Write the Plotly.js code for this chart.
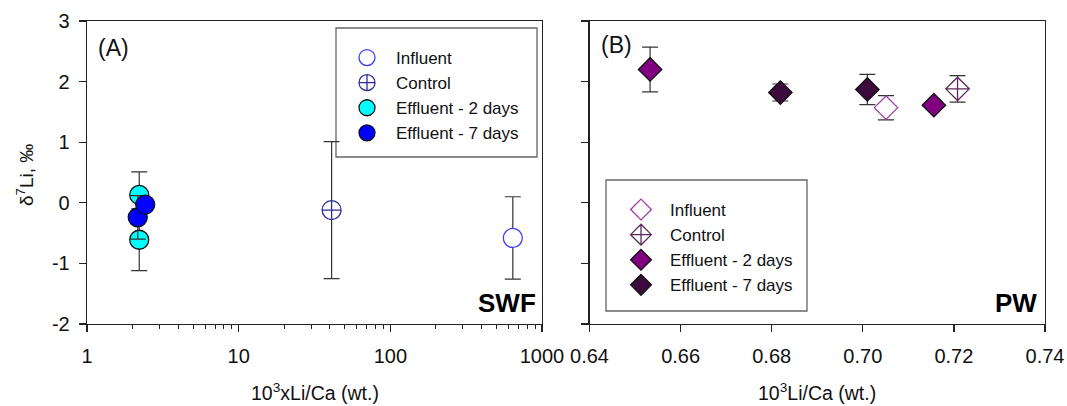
<!DOCTYPE html>
<html>
<head>
<meta charset="utf-8">
<script src="https://cdn.plot.ly/plotly-3.0.1.min.js"></script>
<style>html,body{margin:0;padding:0;background:#fff;}#chart{width:1067px;height:406px;}</style>
</head>
<body>
<div id="chart"></div>
<script>
// ---------- data (A) SWF ----------
const seriesNames = ["Influent", "Control", "Effluent - 2 days", "Effluent - 7 days"];
const swfInfluentX = [642];
const swfInfluentY = [-0.58];
const swfInfluentErr = [0.68];
const swfControlX = [41];
const swfControlY = [-0.12];
const swfControlErr = [1.13];
const swfEff2X = [2.21, 2.21];
const swfEff2Y = [0.13, -0.61];
const swfEff2Err = [0.38, 0.51];
const swfEff7X = [2.16, 2.42];
const swfEff7Y = [-0.24, -0.03];
const swfEff7Err = [0.36, 0.08];
// ---------- data (B) PW ----------
const pwInfluentX = [0.7051];
const pwInfluentY = [1.57];
const pwInfluentErr = [0.20];
const pwControlX = [0.7208];
const pwControlY = [1.88];
const pwControlErr = [0.22];
const pwEff2X = [0.6533, 0.7156];
const pwEff2Y = [2.20, 1.61];
const pwEff2Err = [0.37, 0.0];
const pwEff7X = [0.6819, 0.7010];
const pwEff7Y = [1.82, 1.87];
const pwEff7Err = [0.14, 0.25];
// ---------- tick labels ----------
const yTickVals = [-2, -1, 0, 1, 2, 3];
const yTickText = ["-2", "-1", "0", "1", "2", "3"];
const swfTickVals = [1, 10, 100, 1000];
const swfTickText = ["1", "10", "100", "1000"];
const pwTickVals = [0.64, 0.66, 0.68, 0.70, 0.72, 0.74];
const pwTickText = ["0.64", "0.66", "0.68", "0.70", "0.72", "0.74"];

const FONT = "Liberation Sans, Arial, sans-serif";
const W = 1067, H = 406;
const px = v => v / W;
const py = v => 1 - v / H;

function err(arr) {
  return {type: "data", array: arr, visible: true, color: "#333333", thickness: 1.2, width: 8};
}
function tr(x, y, e, name, xa, ya, legend, marker) {
  return {x: x, y: y, name: name, type: "scatter", mode: "markers", xaxis: xa, yaxis: ya,
          legend: legend, error_y: err(e), marker: marker, cliponaxis: false};
}

const data = [
  tr(swfInfluentX, swfInfluentY, swfInfluentErr, seriesNames[0], "x", "y", "legend",
     {symbol: "circle", size: 19, color: "#ffffff", line: {color: "#3b3bff", width: 1.3}}),
  tr(swfControlX, swfControlY, swfControlErr, seriesNames[1], "x", "y", "legend",
     {symbol: "circle-cross", size: 19, color: "#ffffff", line: {color: "#2e2e9a", width: 1.3}}),
  tr(swfEff2X, swfEff2Y, swfEff2Err, seriesNames[2], "x", "y", "legend",
     {symbol: "circle", size: 19, color: "#00ffff", line: {color: "#111111", width: 1.3}}),
  tr(swfEff7X, swfEff7Y, swfEff7Err, seriesNames[3], "x", "y", "legend",
     {symbol: "circle", size: 19, color: "#0000ff", line: {color: "#111111", width: 1.3}}),

  tr(pwInfluentX, pwInfluentY, pwInfluentErr, seriesNames[0], "x2", "y2", "legend2",
     {symbol: "diamond", size: 18, color: "#ffffff", line: {color: "#a33aa3", width: 1.3}}),
  tr(pwControlX, pwControlY, pwControlErr, seriesNames[1], "x2", "y2", "legend2",
     {symbol: "diamond-cross", size: 18, color: "#ffffff", line: {color: "#5c2a5c", width: 1.3}}),
  tr(pwEff2X, pwEff2Y, pwEff2Err, seriesNames[2], "x2", "y2", "legend2",
     {symbol: "diamond", size: 18, color: "#800080", line: {color: "#111111", width: 1.3}}),
  tr(pwEff7X, pwEff7Y, pwEff7Err, seriesNames[3], "x2", "y2", "legend2",
     {symbol: "diamond", size: 18, color: "#3c0a3c", line: {color: "#111111", width: 1.3}})
];

const axisCommon = {
  showline: true, linecolor: "#222222", linewidth: 1.3, mirror: true,
  showgrid: false, zeroline: false, ticks: "outside", tickcolor: "#222222",
  tickwidth: 1.2, ticklen: 7, tickfont: {family: FONT, size: 20, color: "#111111"}
};

const dY = [py(324), py(21)];

const layout = {
  width: W, height: H,
  margin: {l: 0, r: 0, t: 0, b: 0},
  paper_bgcolor: "#ffffff", plot_bgcolor: "#ffffff",
  font: {family: FONT, color: "#111111"},
  showlegend: true,
  xaxis: Object.assign({}, axisCommon, {
    type: "log", range: [0, 3], domain: [px(87), px(542)], anchor: "y",
    tickmode: "array", tickvals: swfTickVals, ticktext: swfTickText, ticklabelstandoff: 7,
    minor: {ticks: "outside", ticklen: 4, tickcolor: "#222222", tickwidth: 1, dtick: "D1", showgrid: false}
  }),
  yaxis: Object.assign({}, axisCommon, {
    range: [-2, 3], domain: dY, anchor: "x",
    tickmode: "array", tickvals: yTickVals, ticktext: yTickText, ticklabelstandoff: 5
  }),
  xaxis2: Object.assign({}, axisCommon, {
    range: [0.64, 0.74], domain: [px(589.5), px(1045)], anchor: "y2",
    tickmode: "array", tickvals: pwTickVals, ticktext: pwTickText, ticklabelstandoff: 7
  }),
  yaxis2: Object.assign({}, axisCommon, {
    range: [-2, 3], domain: dY, anchor: "x2",
    tickmode: "array", tickvals: yTickVals, showticklabels: false
  }),
  legend: {
    x: px(338), y: py(40), xanchor: "left", yanchor: "top",
    bgcolor: "rgba(0,0,0,0)", borderwidth: 0, itemwidth: 48,
    font: {family: FONT, size: 17, color: "#111111"}, tracegroupgap: 0
  },
  legend2: {
    x: px(612), y: py(192), xanchor: "left", yanchor: "top",
    bgcolor: "rgba(0,0,0,0)", borderwidth: 0, itemwidth: 48,
    font: {family: FONT, size: 17, color: "#111111"}, tracegroupgap: 0
  },
  shapes: [
    {type: "rect", xref: "paper", yref: "paper", x0: px(336), x1: px(537), y0: py(28), y1: py(157),
     line: {color: "#666666", width: 1.3}, fillcolor: "rgba(0,0,0,0)", layer: "below"},
    {type: "rect", xref: "paper", yref: "paper", x0: px(606), x1: px(807), y0: py(180), y1: py(311),
     line: {color: "#666666", width: 1.3}, fillcolor: "rgba(0,0,0,0)", layer: "below"}
  ],
  annotations: [
    {text: "(A)", xref: "paper", yref: "paper", x: px(96), y: py(48), xanchor: "left", yanchor: "middle",
     showarrow: false, font: {family: FONT, size: 23, color: "#111111"}},
    {text: "(B)", xref: "paper", yref: "paper", x: px(599), y: py(45), xanchor: "left", yanchor: "middle",
     showarrow: false, font: {family: FONT, size: 23, color: "#111111"}},
    {text: "<b>SWF</b>", xref: "paper", yref: "paper", x: px(538), y: py(303), xanchor: "right", yanchor: "middle",
     showarrow: false, font: {family: FONT, size: 26, color: "#000000"}},
    {text: "<b>PW</b>", xref: "paper", yref: "paper", x: px(1039), y: py(303), xanchor: "right", yanchor: "middle",
     showarrow: false, font: {family: FONT, size: 26, color: "#000000"}},
    {text: "δ<sup>7</sup>Li, ‰", xref: "paper", yref: "paper", x: px(25), y: py(175), xanchor: "center", yanchor: "middle",
     textangle: -90, showarrow: false, font: {family: FONT, size: 19, color: "#111111"}},
    {text: "10<sup>3</sup>xLi/Ca (wt.)", xref: "paper", yref: "paper", x: px(315), y: py(392), xanchor: "center", yanchor: "middle",
     showarrow: false, font: {family: FONT, size: 19.5, color: "#111111"}},
    {text: "10<sup>3</sup>Li/Ca (wt.)", xref: "paper", yref: "paper", x: px(817), y: py(392), xanchor: "center", yanchor: "middle",
     showarrow: false, font: {family: FONT, size: 19.5, color: "#111111"}}
  ]
};

Plotly.newPlot("chart", data, layout, {staticPlot: true, displayModeBar: false});
</script>
</body>
</html>
